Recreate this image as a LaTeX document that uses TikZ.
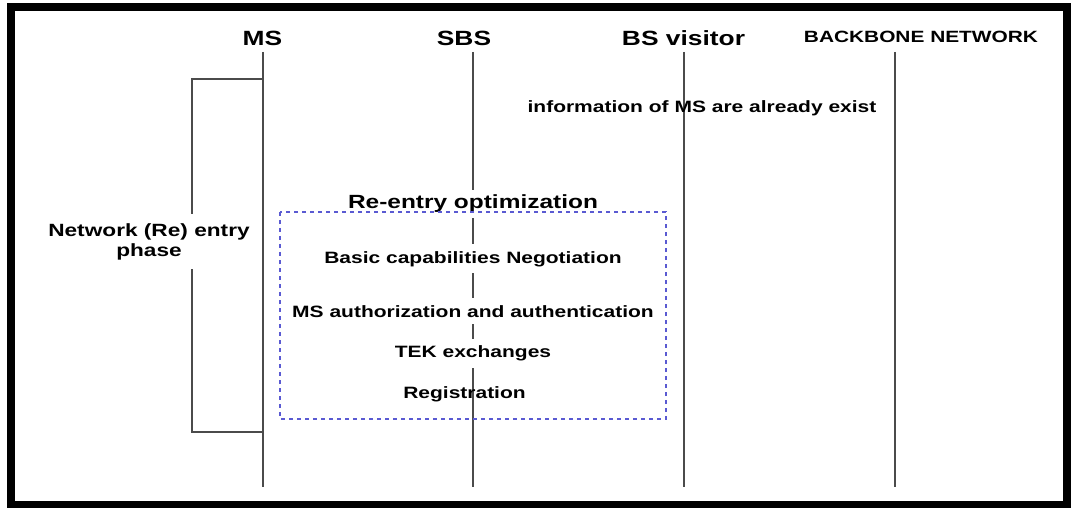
\documentclass[tikz,border=0pt]{standalone}
\usepackage{fontspec}
\setmainfont{Liberation Sans}[FakeStretch=1.28,BoldFeatures={FakeStretch=1.28}]
\definecolor{grpblue}{RGB}{90,90,210}
\definecolor{lifegray}{RGB}{75,75,75}
\begin{document}
\begin{tikzpicture}[x=1pt,y=-1pt,
  life/.style={draw=lifegray, line width=2pt},
  hdr/.style={font=\fontsize{20.6}{24}\selectfont\bfseries, inner sep=0pt, anchor=base},
  small/.style={font=\fontsize{16.4}{20}\selectfont\bfseries, inner sep=0pt, anchor=base},
  gap/.style={fill=white, inner xsep=2pt, inner ysep=7pt},
  grp/.style={draw=grpblue, line width=2pt, dash pattern=on 4pt off 4pt}]
\useasboundingbox (0,0) rectangle (1072,508);

% outer frame
\draw[line width=8pt] (11,7) rectangle (1066.5,504.5);

% entity headers
\node[hdr] (ms)  at (262.5,46) {MS};
\node[hdr] (sbs) at (464,46) {SBS};
\node[hdr] (bsv) at (683.5,46) {BS visitor};
\node[small, font=\fontsize{16.3}{20}\selectfont\bfseries] (bb) at (921,43) {BACKBONE NETWORK};

% lifeline end points
\coordinate (msT) at (263,52);  \coordinate (msB) at (263,487);
\coordinate (sbsT) at (473,52); \coordinate (sbsB) at (473,487);
\coordinate (bsvT) at (684,52); \coordinate (bsvB) at (684,487);
\coordinate (bbT) at (895,52);  \coordinate (bbB) at (895,487);

\draw[life] (msT) -- (msB);
\draw[life] (sbsT) -- (sbsB);
\draw[life] (bsvT) -- (bsvB);
\draw[life] (bbT) -- (bbB);

% bracket marking the (re)entry phase
\coordinate (brT) at (263,79);
\coordinate (brB) at (263,432);
\draw[life] (brT) -- ++(-71,0) |- (brB);

% labels
\node[small] (info) at (702,113) {information of MS are already exist};
\node[gap, align=center, font=\fontsize{17.7}{20}\selectfont\bfseries, inner ysep=9pt]
  (phase) at (149,241.5) {Network (Re) entry\\phase};
\node[gap, font=\fontsize{19.1}{22}\selectfont\bfseries, anchor=base, inner ysep=5pt]
  (reopt) at (473,209) {Re-entry optimization};
\node[small, gap, anchor=base] (basic) at (473,263) {Basic capabilities Negotiation};
\node[small, gap, anchor=base] (auth) at (473,317) {MS authorization and authentication};
\node[small, gap, anchor=base] (tek) at (473,357.5) {TEK exchanges};
\node[small] (reg) at (464.5,398) {Registration};

% re-entry optimization group
\draw[grp] (280,212) rectangle (666,419);
\end{tikzpicture}
\end{document}
